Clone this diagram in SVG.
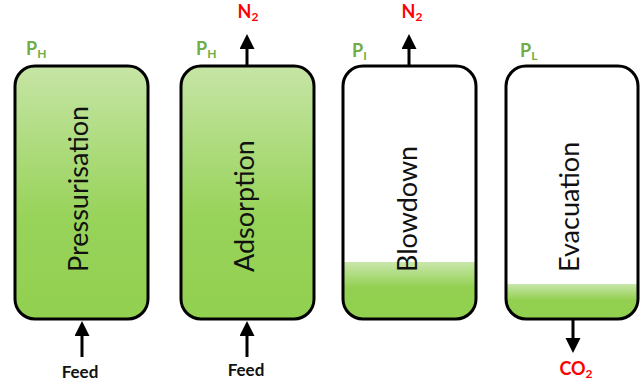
<svg xmlns="http://www.w3.org/2000/svg" width="642" height="386" viewBox="0 0 642 386">
  <defs>
    <linearGradient id="gFull" x1="0" y1="0" x2="0" y2="1">
      <stop offset="0" stop-color="#c6e5a6"/>
      <stop offset="0.6" stop-color="#98d35a"/>
      <stop offset="1" stop-color="#92d050"/>
    </linearGradient>
    <linearGradient id="gBand" x1="0" y1="0" x2="0" y2="1">
      <stop offset="0" stop-color="#c9e7ab"/>
      <stop offset="0.45" stop-color="#93d051"/>
      <stop offset="1" stop-color="#92d050"/>
    </linearGradient>
    <clipPath id="c3"><rect x="343" y="66" width="133" height="253" rx="20"/></clipPath>
    <clipPath id="c4"><rect x="506" y="66" width="132" height="253" rx="20"/></clipPath>
    <marker id="ah" markerUnits="userSpaceOnUse" markerWidth="16" markerHeight="16" refX="1" refY="7.5" orient="auto">
      <path d="M0,0 L15,7.5 L0,15 z" fill="#000"/>
    </marker>
  </defs>
  <style>
    .col { stroke: #000; stroke-width: 3; }
    .lbl { font-family: Lato, "Liberation Sans", sans-serif; font-size: 27px; fill: #111; }
    .p { font-family: Lato, "Liberation Sans", sans-serif; font-weight: bold; font-size: 18px; fill: #70ad47; }
    .gas { font-family: Lato, "Liberation Sans", sans-serif; font-weight: bold; font-size: 18px; fill: #ff0000; }
    .feed { font-family: Lato, "Liberation Sans", sans-serif; font-weight: bold; font-size: 17px; fill: #111; }
    .sub { font-size: 12px; }
    .arr { stroke: #000; stroke-width: 3; fill: none; marker-end: url(#ah); }
  </style>

  <g id="pressurisation">
    <rect class="col" x="15" y="66" width="133" height="253" rx="20" fill="url(#gFull)"/>
    <text class="lbl" transform="translate(88,272) rotate(-90)">Pressurisation</text>
    <text class="p" x="26" y="55">P<tspan class="sub" dy="3">H</tspan></text>
  </g>

  <g id="adsorption">
    <rect class="col" x="181" y="66" width="133" height="253" rx="20" fill="url(#gFull)"/>
    <text class="lbl" transform="translate(254,272) rotate(-90)">Adsorption</text>
    <text class="p" x="196" y="55">P<tspan class="sub" dy="3">H</tspan></text>
  </g>

  <g id="blowdown">
    <rect x="343" y="66" width="133" height="253" rx="20" fill="#fff"/>
    <rect x="343" y="262" width="133" height="57" fill="url(#gBand)" clip-path="url(#c3)"/>
    <rect class="col" x="343" y="66" width="133" height="253" rx="20" fill="none"/>
    <text class="lbl" transform="translate(417,272) rotate(-90)">Blowdown</text>
    <text class="p" x="352" y="57">P<tspan class="sub" dy="3">I</tspan></text>
  </g>

  <g id="evacuation">
    <rect x="506" y="66" width="132" height="253" rx="20" fill="#fff"/>
    <rect x="506" y="284" width="132" height="35" fill="url(#gBand)" clip-path="url(#c4)"/>
    <rect class="col" x="506" y="66" width="132" height="253" rx="20" fill="none"/>
    <text class="lbl" transform="translate(579,272) rotate(-90)">Evacuation</text>
    <text class="p" x="520" y="57">P<tspan class="sub" dy="3">L</tspan></text>
  </g>

  <g id="connectors">
    <line class="arr" x1="82" y1="357" x2="82" y2="335"/>
    <line class="arr" x1="247" y1="357" x2="247" y2="335"/>
    <line class="arr" x1="247" y1="66" x2="247" y2="48"/>
    <line class="arr" x1="409" y1="66" x2="409" y2="48"/>
    <line class="arr" x1="573" y1="319" x2="573" y2="339"/>
  </g>

  <g id="labels">
    <text class="feed" x="80" y="378" text-anchor="middle">Feed</text>
    <text class="feed" x="246" y="376" text-anchor="middle">Feed</text>
    <text class="gas" x="248" y="18" text-anchor="middle">N<tspan class="sub" dy="3">2</tspan></text>
    <text class="gas" x="412" y="18" text-anchor="middle">N<tspan class="sub" dy="3">2</tspan></text>
    <text class="gas" x="576" y="375" text-anchor="middle">CO<tspan class="sub" dy="3">2</tspan></text>
  </g>
</svg>
